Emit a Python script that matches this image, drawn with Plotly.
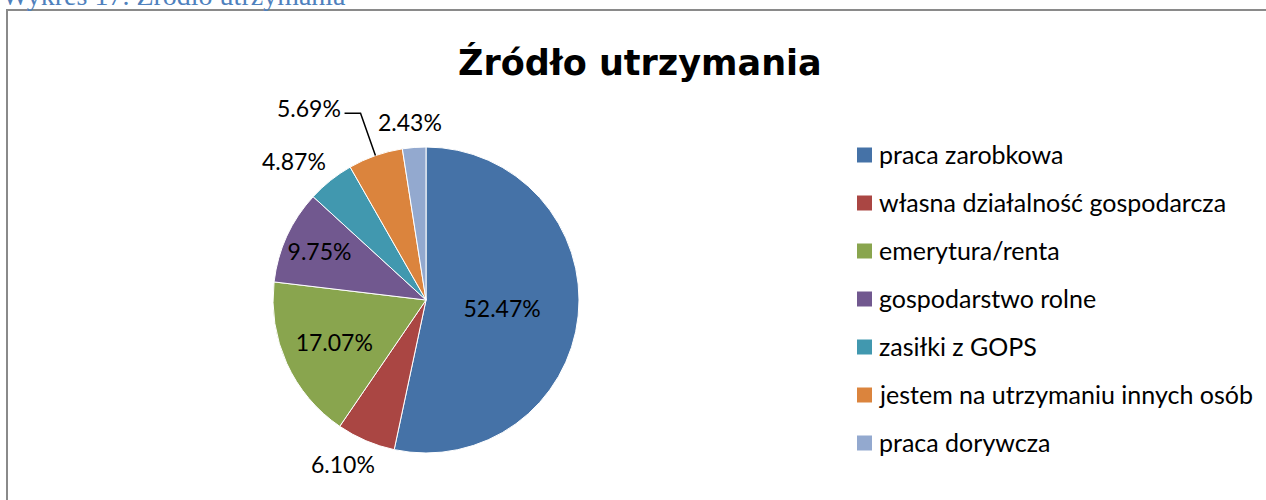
import math
import plotly.graph_objects as go

categories = ["praca zarobkowa", "własna działalność gospodarcza", "emerytura/renta",
              "gospodarstwo rolne", "zasiłki z GOPS", "jestem na utrzymaniu innych osób",
              "praca dorywcza"]
values = [52.47, 6.10, 17.07, 9.75, 4.87, 5.69, 2.43]
colors = ["#4572A7", "#AA4643", "#89A54E", "#71588F", "#4198AF", "#DB843D", "#93A9CF"]
# label placement style: inside slice, outside, or outside with a leader line
label_mode = ["inside", "outside", "inside", "inside", "outside", "leader", "outside"]
labels_txt = [f"{v:.2f}%" for v in values]

W, H = 1266, 500
cx, cy, r = 426, 300, 153
LBL_SIZE = 23
LBL_FONT = dict(family="Lato", size=LBL_SIZE, color="black")

fig = go.Figure()
fig.add_trace(go.Pie(
    labels=categories, values=values,
    text=[t if m == "inside" else "" for t, m in zip(labels_txt, label_mode)],
    textinfo="text", textposition="inside", sort=False, direction="clockwise", rotation=0,
    marker=dict(colors=colors, line=dict(color="white", width=1)),
    insidetextfont=LBL_FONT, insidetextorientation="horizontal",
    domain=dict(x=[(cx - r) / W, (cx + r) / W], y=[(H - cy - r) / H, (H - cy + r) / H]),
    showlegend=False, automargin=False, hoverinfo="label+text",
))

def px(x):
    return x / W

def py(y):
    return 1 - y / H

shapes = [dict(type="rect", xref="paper", yref="paper", x0=px(7), x1=1.02, y0=-0.02, y1=py(10),
               line=dict(color="#8A8A8A", width=2), fillcolor="rgba(0,0,0,0)", layer="below")]
annotations = [
    dict(text="Wykres 17. Źródło utrzymania", xref="paper", yref="paper", x=px(0), y=py(13),
         xanchor="left", yanchor="bottom", showarrow=False,
         font=dict(family="Liberation Serif", size=28, color="#4F81BD")),
    dict(text="<b>Źródło utrzymania</b>", xref="paper", yref="paper", x=px(640), y=py(62),
         xanchor="center", yanchor="middle", showarrow=False,
         font=dict(family="DejaVu Sans", size=35, color="black")),
]

# outside data labels, placed from the slice mid-angles computed from the values
total = sum(values)
cum = 0.0
for v, t, m in zip(values, labels_txt, label_mode):
    theta = 2 * math.pi * (cum + v / 2) / total
    cum += v
    if m == "inside":
        continue
    s, c = math.sin(theta), math.cos(theta)
    if m == "outside":
        R = r + 14
        ax_, ay_ = cx + R * s, cy - R * c
        w_est, h_est = 0.55 * LBL_SIZE * len(t), LBL_SIZE * 1.0
        lx_, ly_ = ax_ + s * w_est * 0.7, ay_ - c * h_est * 0.5
        annotations.append(dict(text=t, xref="paper", yref="paper", x=px(lx_), y=py(ly_),
                                xanchor="center", yanchor="middle", showarrow=False, font=LBL_FONT))
    else:
        p0 = (cx + r * s, cy - r * c)
        R2 = r + 45
        p1 = (cx + R2 * s, cy - R2 * c)
        p2 = (p1[0] - 16, p1[1])
        shapes.append(dict(type="path", xref="paper", yref="paper",
                           path=f"M {px(p0[0])},{py(p0[1])} L {px(p1[0])},{py(p1[1])} L {px(p2[0])},{py(p2[1])}",
                           line=dict(color="black", width=1.5)))
        annotations.append(dict(text=t, xref="paper", yref="paper", x=px(p2[0] - 2), y=py(p2[1] - 5),
                                xanchor="right", yanchor="middle", showarrow=False, font=LBL_FONT))

# legend built from the category / colour arrays
lx, ly0, dy, sq = 857, 155, 48, 15
for i, (c, col) in enumerate(zip(categories, colors)):
    yc = ly0 + i * dy
    shapes.append(dict(type="rect", xref="paper", yref="paper",
                       x0=px(lx), x1=px(lx + sq), y0=py(yc + sq / 2), y1=py(yc - sq / 2),
                       fillcolor=col, line=dict(width=0)))
    annotations.append(dict(text=c, xref="paper", yref="paper", x=px(lx + sq + 5), y=py(yc - 1),
                            xanchor="left", yanchor="middle", showarrow=False,
                            font=dict(family="Lato", size=25, color="black")))

fig.update_layout(width=W, height=H, margin=dict(l=0, r=0, t=0, b=0),
                  paper_bgcolor="white", plot_bgcolor="white",
                  shapes=shapes, annotations=annotations)
fig.write_html("out.html", config={"displayModeBar": False},
               post_script="document.body.style.margin='0';document.body.style.overflow='hidden';")
